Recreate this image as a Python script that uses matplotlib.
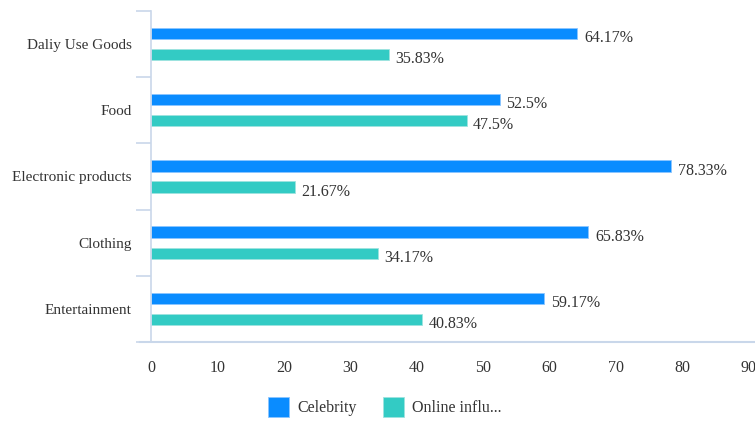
import matplotlib.pyplot as plt
import numpy as np

# Chart data
categories = ['Daliy Use Goods', 'Food', 'Electronic products', 'Clothing', 'Entertainment']
celebrity = [64.17, 52.5, 78.33, 65.83, 59.17]
online = [35.83, 47.5, 21.67, 34.17, 40.83]
series_names = ['Celebrity', 'Online influ...']
x_ticks = [0, 10, 20, 30, 40, 50, 60, 70, 80, 90]

BLUE = '#0a8cff'
TEAL = '#33cbc4'
AXIS = '#c9d7ea'
TEXT = '#333333'

plt.rcParams['font.family'] = ['Liberation Serif', 'DejaVu Serif']

fig = plt.figure(figsize=(7.55, 4.21), dpi=100)
ax = fig.add_axes([0.2, 0.1876, 0.792, 0.7864])

y = np.arange(len(categories))
h = 0.17
off = 0.16
b1 = ax.barh(y - off, celebrity, height=h, color=BLUE, edgecolor='#8cc6ff', linewidth=0.6, label=series_names[0])
b2 = ax.barh(y + off, online, height=h, color=TEAL, edgecolor='#9ee3df', linewidth=0.6, label=series_names[1])

for bars, vals in ((b1, celebrity), (b2, online)):
    for bar, v in zip(bars, vals):
        ax.text(v + 1.0, bar.get_y() + bar.get_height() / 2 + 0.07, f'{v:g}%',
                va='center', ha='left', fontsize=11.5, color=TEXT)

ax.set_xlim(0, 90)
ax.set_ylim(len(categories) - 0.5, -0.5)
ax.set_xticks(x_ticks)
ax.set_yticks(y)
ax.set_yticklabels(categories)
ax.set_yticks(np.arange(-0.5, len(categories)), minor=True)

ax.tick_params(axis='x', length=0, pad=13, labelsize=11.5, labelcolor=TEXT)
ax.tick_params(axis='y', which='major', length=0, pad=14, labelsize=11, labelcolor=TEXT)
ax.tick_params(axis='y', which='minor', length=11, width=1.2, color=AXIS)

for side in ('top', 'right', 'bottom'):
    ax.spines[side].set_visible(False)
ax.spines['left'].set_color(AXIS)
ax.spines['left'].set_linewidth(1.2)

# baseline running past both ends of the plot area
ax.plot([-11 / 598, 606 / 598], [0, 0], transform=ax.transAxes, color=AXIS, lw=1.5, clip_on=False)

leg = fig.legend(handles=[b1, b2], labels=series_names, loc='center', bbox_to_anchor=(0.51, 0.033),
                 ncol=2, frameon=False, fontsize=11.5, handlelength=1.3, handleheight=1.5,
                 columnspacing=1.6, handletextpad=0.55)
for t in leg.get_texts():
    t.set_color(TEXT)

fig.savefig('out.png', dpi=100)
